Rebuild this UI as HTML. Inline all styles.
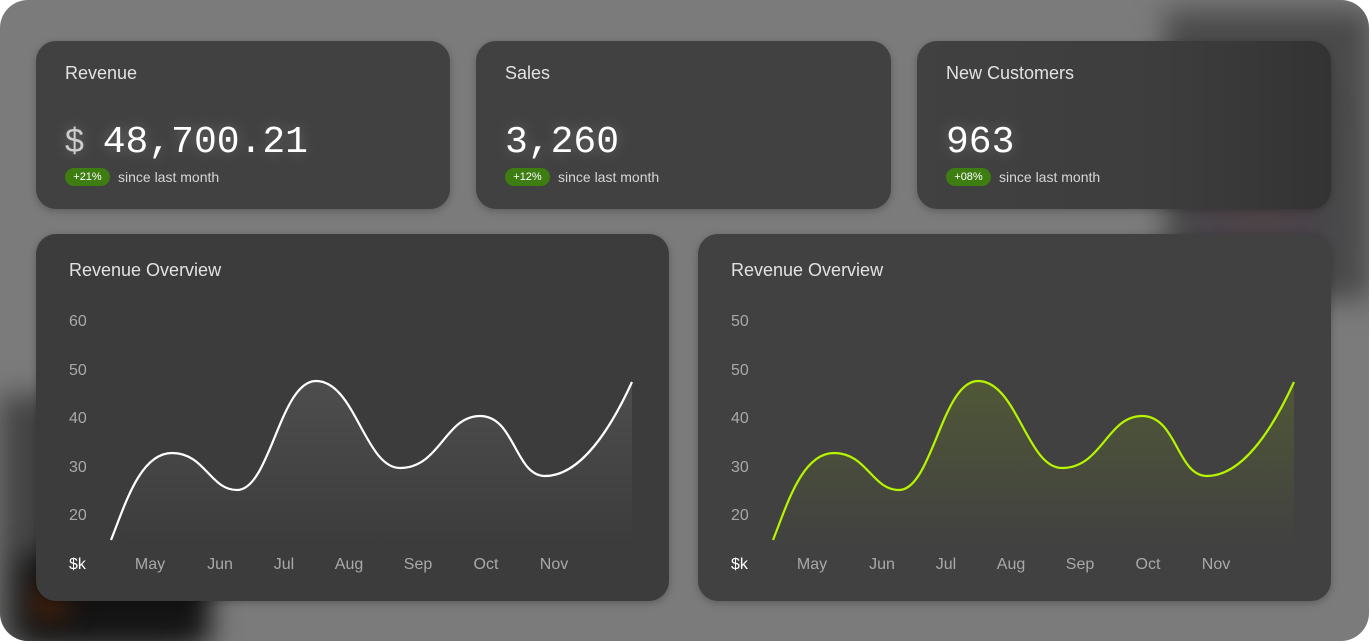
<!DOCTYPE html>
<html><head><meta charset="utf-8"><style>
html,body{margin:0;padding:0;background:#fff;}
body{width:1371px;height:643px;position:relative;overflow:hidden;font-family:"Liberation Sans",sans-serif;}
.outer{position:absolute;left:0;top:0;width:1369px;height:641px;border-radius:28px;background:#7b7b7b;overflow:hidden;}
.blob{position:absolute;filter:blur(14px);}
.card{position:absolute;background:#414141;border-radius:20px;box-shadow:0 2px 8px rgba(0,0,0,0.25);}
.title{position:absolute;left:29px;top:22px;color:#e2e2e2;font-size:18px;}
.num{position:absolute;left:29px;top:80px;color:#fff;font-family:"Liberation Mono",monospace;font-size:38px;text-shadow:0 0 14px rgba(255,255,255,0.25);}
.num .d{color:#ccc;font-family:"Liberation Sans",sans-serif;font-size:34px;margin-right:-4px;}
.badge{position:absolute;left:29px;top:127px;background:#3d7d12;color:#fff;font-size:11px;border-radius:9px;width:45px;height:18px;line-height:18px;text-align:center;}
.since{position:absolute;left:82px;top:127px;color:#d6d6d6;font-size:14px;line-height:18px;}
svg text{font-family:"Liberation Sans",sans-serif;font-size:16px;fill:#a9a9a9;}
</style></head><body>
<div class="outer">
  <div class="blob" style="left:1165px;top:10px;width:206px;height:290px;background:#4a4a4a;"></div>
  <div class="blob" style="left:1195px;top:100px;width:130px;height:160px;background:radial-gradient(circle,#5a4444,#3e3e4c);opacity:.7"></div>
  <div class="blob" style="left:0;top:395px;width:190px;height:250px;background:#444;"></div>
  <div class="blob" style="left:20px;top:555px;width:190px;height:90px;background:#141414;"></div>
  <div class="blob" style="left:35px;top:590px;width:30px;height:25px;background:#5a2508;"></div>
</div>

<div class="card" style="left:36px;top:41px;width:414px;height:168px;">
  <div class="title">Revenue</div>
  <div class="num"><span class="d">$</span> 48,700.21</div>
  <div class="badge">+21%</div><div class="since">since last month</div>
</div>
<div class="card" style="left:476px;top:41px;width:415px;height:168px;">
  <div class="title">Sales</div>
  <div class="num">3,260</div>
  <div class="badge">+12%</div><div class="since">since last month</div>
</div>
<div class="card" style="left:917px;top:41px;width:414px;height:168px;background:linear-gradient(90deg,#414141 0%,#3d3d3d 60%,#333 100%);">
  <div class="title">New Customers</div>
  <div class="num">963</div>
  <div class="badge">+08%</div><div class="since">since last month</div>
</div>
<div class="card" style="left:36px;top:234px;width:633px;height:367px;background:#3c3c3c;"></div>
<div class="card" style="left:698px;top:234px;width:633px;height:367px;"></div>

<svg width="1371" height="643" style="position:absolute;left:0;top:0">
<defs>
<linearGradient id="gw" x1="0" y1="0" x2="0" y2="1"><stop offset="0" stop-color="#fff" stop-opacity=".09"/><stop offset="1" stop-color="#fff" stop-opacity="0"/></linearGradient>
<linearGradient id="gg" x1="0" y1="0" x2="0" y2="1"><stop offset="0" stop-color="#9ccf00" stop-opacity=".16"/><stop offset="1" stop-color="#9ccf00" stop-opacity="0"/></linearGradient>
<path id="c" d="M111,540 C125,505 140,453 172,453 C205,453 210,490 237,490 C270,490 280,381 316,381 C355,381 365,468 400,468 C440,468 445,416 480,416 C515,416 515,476 545,476 C580,476 610,430 632,382"/>
</defs>
<text x="69" y="276" style="font-size:18px;fill:#e2e2e2">Revenue Overview</text>
<text x="731" y="276" style="font-size:18px;fill:#e2e2e2">Revenue Overview</text>
<g>
<path d="M111,540 C125,505 140,453 172,453 C205,453 210,490 237,490 C270,490 280,381 316,381 C355,381 365,468 400,468 C440,468 445,416 480,416 C515,416 515,476 545,476 C580,476 610,430 632,382 L632,545 L111,545Z" fill="url(#gw)"/>
<use href="#c" fill="none" stroke="#fff" stroke-width="2.2"/>
<text x="69" y="326">60</text><text x="69" y="375">50</text><text x="69" y="423">40</text><text x="69" y="472">30</text><text x="69" y="520">20</text>
<text x="69" y="569" style="fill:#fff">$k</text>
<text x="150" y="569" text-anchor="middle">May</text><text x="220" y="569" text-anchor="middle">Jun</text><text x="284" y="569" text-anchor="middle">Jul</text><text x="349" y="569" text-anchor="middle">Aug</text><text x="418" y="569" text-anchor="middle">Sep</text><text x="486" y="569" text-anchor="middle">Oct</text><text x="554" y="569" text-anchor="middle">Nov</text>
</g>
<g transform="translate(662,0)">
<path d="M111,540 C125,505 140,453 172,453 C205,453 210,490 237,490 C270,490 280,381 316,381 C355,381 365,468 400,468 C440,468 445,416 480,416 C515,416 515,476 545,476 C580,476 610,430 632,382 L632,545 L111,545Z" fill="url(#gg)"/>
<use href="#c" fill="none" stroke="#b6f500" stroke-width="2.2"/>
<text x="69" y="326">50</text><text x="69" y="375">50</text><text x="69" y="423">40</text><text x="69" y="472">30</text><text x="69" y="520">20</text>
<text x="69" y="569" style="fill:#fff">$k</text>
<text x="150" y="569" text-anchor="middle">May</text><text x="220" y="569" text-anchor="middle">Jun</text><text x="284" y="569" text-anchor="middle">Jul</text><text x="349" y="569" text-anchor="middle">Aug</text><text x="418" y="569" text-anchor="middle">Sep</text><text x="486" y="569" text-anchor="middle">Oct</text><text x="554" y="569" text-anchor="middle">Nov</text>
</g>
</svg>
</body></html>
